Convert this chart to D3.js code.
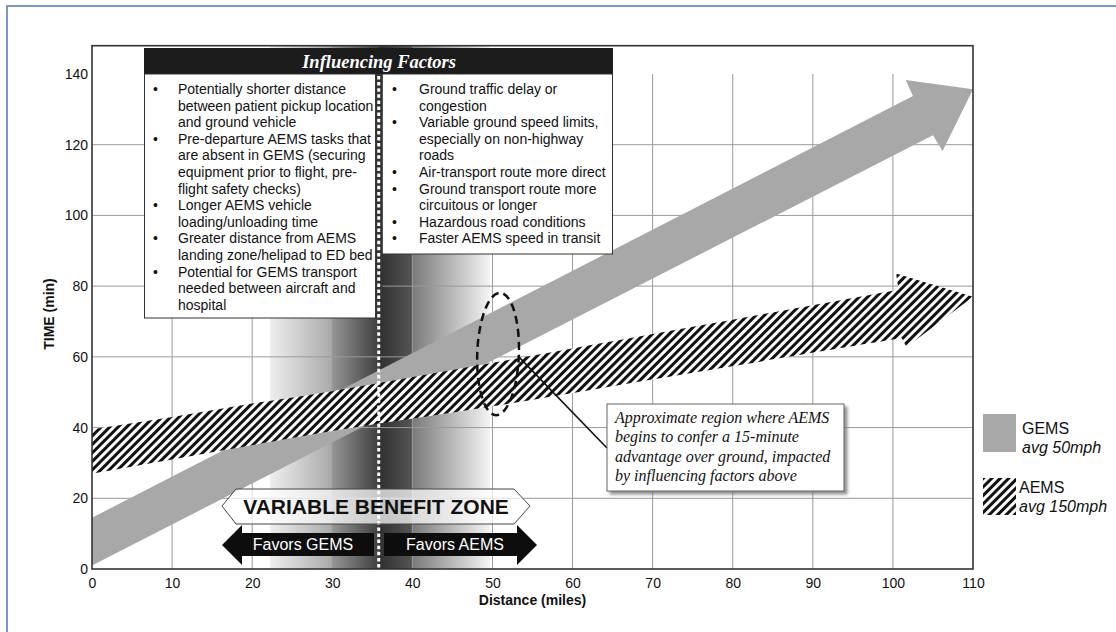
<!DOCTYPE html>
<html><head><meta charset="utf-8">
<script src="https://cdn.jsdelivr.net/npm/d3@7"></script>
<style>body{margin:0;background:#fff} svg{display:block}</style>
</head><body>
<svg id="c" width="1116" height="632"></svg>
<script>
// ---------------- data ----------------
const xTicks = [0,10,20,30,40,50,60,70,80,90,100,110];
const yTicks = [0,20,40,60,80,100,120,140];
const yGrid = [20,40,60,80,100,120];
// GEMS arrow outline (distance miles, time min)
const gemsArrow = [[0,1],[0,14.5],[102.5,133.8],[101.6,138.3],[110,135.7],[106.2,118.2],[105,122.7]];
// AEMS arrow outline
const aemsUpper = [[0,39.5],[10,43],[20,46.8],[30,50.3],[50,58.3],[75,68.5],[100.7,79]];
const aemsHead  = [[100.4,83.6],[110,77],[101.7,62.8]];
const aemsLower = [[101.1,65.3],[75,55.5],[50,46],[30,39],[20,35],[10,31],[0,27]];
// variable benefit zone (miles): start, split, end
const zone = [22.2, 35.8, 49.7];
// crossover ellipse: centre (miles, min) and radii
const ellipseC = [50.7, 60.8];
const ellipseR = [2.6, 17.3];
const leaderFrom = [53.2, 60.2];

const headerText = "Influencing Factors";
const leftFactors = [
  ["Potentially shorter distance","between patient pickup location","and ground vehicle"],
  ["Pre-departure AEMS tasks that","are absent in GEMS (securing","equipment prior to flight, pre-","flight safety checks)"],
  ["Longer AEMS vehicle","loading/unloading time"],
  ["Greater distance from AEMS","landing zone/helipad to ED bed"],
  ["Potential for GEMS transport","needed between aircraft and","hospital"]
];
const rightFactors = [
  ["Ground traffic delay or","congestion"],
  ["Variable ground speed limits,","especially on non-highway","roads"],
  ["Air-transport route more direct"],
  ["Ground transport route more","circuitous or longer"],
  ["Hazardous road conditions"],
  ["Faster AEMS speed in transit"]
];
const noteLines = ["Approximate region where AEMS","begins to confer a 15-minute","advantage over ground, impacted","by influencing factors above"];
const legendItems = [["GEMS","avg 50mph"],["AEMS","avg 150mph"]];
const zoneLabel = "VARIABLE BENEFIT ZONE";
const favorLabels = ["Favors GEMS","Favors AEMS"];
const xTitle = "Distance (miles)";
const yTitle = "TIME (min)";

// ---------------- layout ----------------
const SANS = "'Liberation Sans', Arial, Helvetica, sans-serif";
const SERIF = "'Liberation Serif', 'Times New Roman', serif";
const svg = d3.select("#c");
const x = d3.scaleLinear().domain([0,110]).range([92,973]);
const y = d3.scaleLinear().domain([0,148]).range([569,45.7]);
const P = d => [x(d[0]), y(d[1])];

const defs = svg.append("defs");
const pat = defs.append("pattern").attr("id","hatch").attr("patternUnits","userSpaceOnUse")
  .attr("width",6).attr("height",6).attr("patternTransform","rotate(45)");
pat.append("rect").attr("width",6).attr("height",6).attr("fill","#fff");
pat.append("rect").attr("width",3).attr("height",6).attr("fill","#111");

const grad = defs.append("linearGradient").attr("id","zoneGrad").attr("gradientUnits","userSpaceOnUse")
  .attr("x1",x(zone[0])).attr("x2",x(zone[2])).attr("y1",0).attr("y2",0);
const span = zone[2]-zone[0];
const off = v => (v-zone[0])/span;
[[zone[0],"#efefef"],[30,"#a9a9a9"],[30,"#959595"],[zone[1],"#3f3f3f"],[zone[1],"#2f2f2f"],[40,"#555"],[40,"#7a7a7a"],[zone[2],"#f4f4f4"]]
  .forEach(s => grad.append("stop").attr("offset",off(s[0])).attr("stop-color",s[1]));

const sh = defs.append("filter").attr("id","shadow").attr("x","-10%").attr("y","-10%").attr("width","130%").attr("height","130%");
sh.append("feDropShadow").attr("dx",3).attr("dy",3).attr("stdDeviation",1.5).attr("flood-color","#777").attr("flood-opacity",0.8);

// outer frame
svg.append("rect").attr("x",7).attr("y",6).attr("width",1300).attr("height",800)
  .attr("fill","none").attr("stroke","#5b7ec0").attr("stroke-width",1.6);

// zone gradient
svg.append("rect").attr("x",x(zone[0])).attr("y",y(148)).attr("width",x(zone[2])-x(zone[0])).attr("height",y(0)-y(148))
  .attr("fill","url(#zoneGrad)");

// grid
svg.append("g").selectAll("line").data(xTicks.slice(1,-1)).join("line")
  .attr("x1",d=>x(d)).attr("x2",d=>x(d)).attr("y1",y(0)).attr("y2",y(140))
  .attr("stroke","#9a9a9a").attr("stroke-width",1);
svg.append("g").selectAll("line").data(yGrid).join("line")
  .attr("x1",x(0)).attr("x2",x(110)).attr("y1",d=>y(d)).attr("y2",d=>y(d))
  .attr("stroke","#9a9a9a").attr("stroke-width",1);

// GEMS arrow
svg.append("path").attr("d", d3.line()(gemsArrow.map(P)) + "Z").attr("fill","#a8a8a8");

// AEMS arrow
const cr = d3.line().curve(d3.curveCatmullRom.alpha(0.5));
const up = cr(aemsUpper.map(P));
const lo = cr(aemsLower.map(P)).replace(/^M/,"L");
const hd = aemsHead.map(P).map(p=>"L"+p[0]+","+p[1]).join("");
svg.append("path").attr("d", up + hd + lo + "Z").attr("fill","url(#hatch)");

// plot frame
svg.append("rect").attr("x",x(0)).attr("y",y(148)).attr("width",x(110)-x(0)).attr("height",y(0)-y(148))
  .attr("fill","none").attr("stroke","#333").attr("stroke-width",1.6);

// axes
const gx = svg.append("g").attr("transform",`translate(0,${y(0)})`)
  .call(d3.axisBottom(x).tickValues(xTicks).tickSize(0).tickPadding(9).tickFormat(d3.format("d")));
const gy = svg.append("g").attr("transform",`translate(${x(0)},0)`)
  .call(d3.axisLeft(y).tickValues(yTicks).tickSize(0).tickPadding(4).tickFormat(d3.format("d")));
[gx,gy].forEach(g=>{g.select(".domain").remove(); g.selectAll("text").attr("font-family",SANS).attr("font-size",14).attr("fill","#111");});
svg.append("text").attr("x",(x(0)+x(110))/2).attr("y",605).attr("text-anchor","middle")
  .attr("font-family",SANS).attr("font-size",14).attr("font-weight","bold").attr("fill","#111").text(xTitle);
svg.append("text").attr("transform","translate(54,314) rotate(-90)").attr("text-anchor","middle")
  .attr("font-family",SANS).attr("font-size",14).attr("font-weight","bold").attr("fill","#111").text(yTitle);

// Influencing factors box
const bx0 = 144, bx1 = 613, divX = x(zone[1]);
svg.append("rect").attr("x",bx0).attr("y",48).attr("width",bx1-bx0).attr("height",26).attr("fill","#1c1c1c");
svg.append("text").attr("x",379).attr("y",68).attr("text-anchor","middle").attr("font-family",SERIF)
  .attr("font-size",18.5).attr("font-weight","bold").attr("font-style","italic").attr("fill","#fff").text(headerText);
svg.append("rect").attr("x",bx0+0.5).attr("y",74).attr("width",divX-3.5-bx0).attr("height",244)
  .attr("fill","#fff").attr("stroke","#333").attr("stroke-width",1);
svg.append("rect").attr("x",divX+3.5).attr("y",74).attr("width",bx1-0.5-(divX+3.5)).attr("height",180)
  .attr("fill","#fff").attr("stroke","#333").attr("stroke-width",1);
svg.append("rect").attr("x",divX-3.5).attr("y",74).attr("width",7).attr("height",244).attr("fill","#333");

function factorCol(list, bulletX, textX){
  let line = 0;
  const g = svg.append("g").attr("font-family",SANS).attr("font-size",14).attr("fill","#111");
  list.forEach(item=>{
    g.append("text").attr("x",bulletX).attr("y",94+line*16.6).text("•");
    item.forEach(t=>{ g.append("text").attr("x",textX).attr("y",94+line*16.6).text(t); line++; });
  });
}
factorCol(leftFactors, 153, 178);
factorCol(rightFactors, 392, 419);

// white dotted divider
svg.append("line").attr("x1",divX).attr("x2",divX).attr("y1",76).attr("y2",y(0)-1)
  .attr("stroke","#fff").attr("stroke-width",3).attr("stroke-dasharray","3.5,2.6");

// variable benefit zone
svg.append("path").attr("d","M222,506L236,489L514,489L530,506L514,524L236,524Z")
  .attr("fill","#fff").attr("fill-opacity",0.72).attr("stroke","#444").attr("stroke-width",1);
svg.append("text").attr("x",376).attr("y",514).attr("text-anchor","middle").attr("font-family",SANS)
  .attr("font-size",21).attr("font-weight","bold").attr("fill","#111").text(zoneLabel);
svg.append("path").attr("d","M222,545L242,525L242,533L374,533L374,556L242,556L242,565Z").attr("fill","#0d0d0d");
svg.append("path").attr("d","M384,533L517,533L517,525L537,545L517,565L517,556L384,556Z").attr("fill","#0d0d0d");
svg.append("text").attr("x",303).attr("y",550).attr("text-anchor","middle").attr("font-family",SANS)
  .attr("font-size",16).attr("fill","#fff").text(favorLabels[0]);
svg.append("text").attr("x",455).attr("y",550).attr("text-anchor","middle").attr("font-family",SANS)
  .attr("font-size",16).attr("fill","#fff").text(favorLabels[1]);

// ellipse + leader
svg.append("ellipse").attr("cx",x(ellipseC[0])).attr("cy",y(ellipseC[1]))
  .attr("rx",x(ellipseR[0])-x(0)).attr("ry",y(0)-y(ellipseR[1]))
  .attr("transform",`rotate(2,${x(ellipseC[0])},${y(ellipseC[1])})`)
  .attr("fill","none").attr("stroke","#111").attr("stroke-width",2.5).attr("stroke-dasharray","8,5");
svg.append("line").attr("x1",x(leaderFrom[0])).attr("y1",y(leaderFrom[1])).attr("x2",607).attr("y2",448)
  .attr("stroke","#111").attr("stroke-width",1.6);

// note box
svg.append("rect").attr("x",607).attr("y",404).attr("width",237).attr("height",87)
  .attr("fill","#fff").attr("stroke","#666").attr("stroke-width",1).attr("filter","url(#shadow)");
noteLines.forEach((t,i)=>svg.append("text").attr("x",615).attr("y",423+i*19.3)
  .attr("font-family",SERIF).attr("font-size",16).attr("font-style","italic").attr("fill","#111").text(t));

// legend
svg.append("rect").attr("x",983).attr("y",414).attr("width",33).attr("height",38).attr("fill","#a8a8a8");
svg.append("rect").attr("x",983).attr("y",478).attr("width",33).attr("height",37).attr("fill","url(#hatch)");
const lg = svg.append("g").attr("font-family",SANS).attr("font-size",16).attr("fill","#111");
lg.append("text").attr("x",1022).attr("y",434).text(legendItems[0][0]);
lg.append("text").attr("x",1022).attr("y",453).attr("font-style","italic").text(legendItems[0][1]);
lg.append("text").attr("x",1019).attr("y",493).text(legendItems[1][0]);
lg.append("text").attr("x",1019).attr("y",512).attr("font-style","italic").text(legendItems[1][1]);
</script>
</body></html>
